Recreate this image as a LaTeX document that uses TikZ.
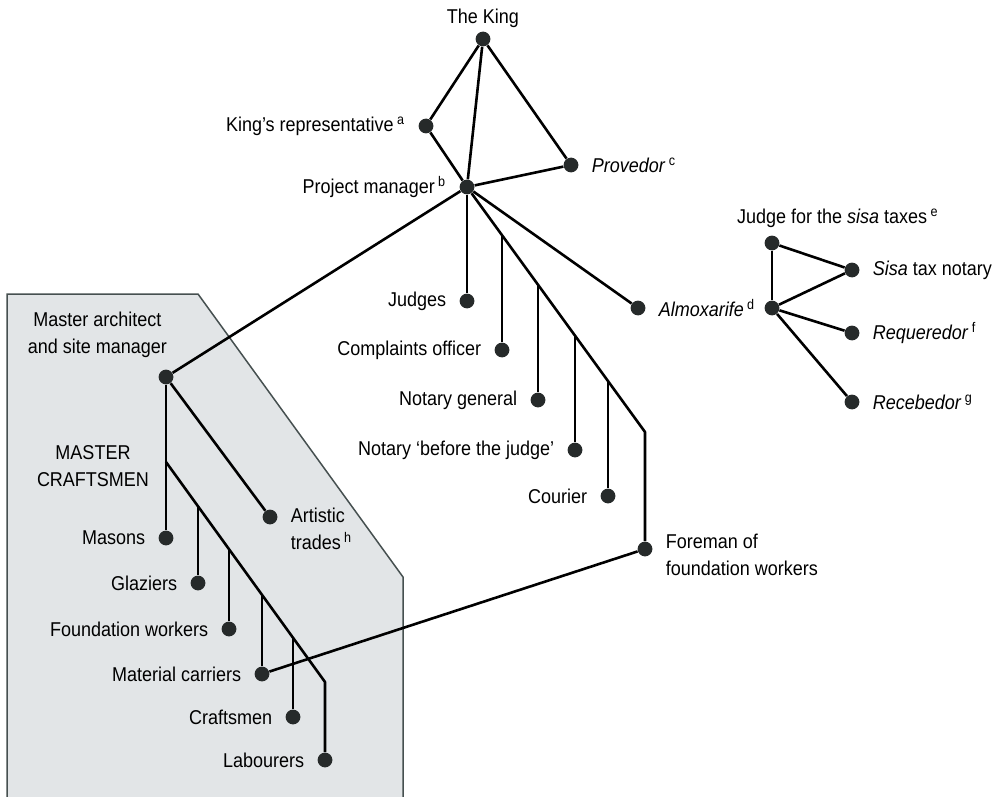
\documentclass[tikz,border=0pt]{standalone}
\usepackage{fontspec}
\setmainfont[FakeStretch=0.9]{Liberation Sans}
\usetikzlibrary{positioning}
\definecolor{boxfill}{RGB}{226,229,231}
\definecolor{boxline}{RGB}{70,80,80}
\definecolor{dotcol}{RGB}{38,42,42}
\newcommand{\fnote}[1]{\,\textsuperscript{#1}}

\begin{document}
\begin{tikzpicture}[x=0.5pt,y=-0.5pt,font=\fontsize{10}{13.5}\selectfont,
		post/.style={circle,fill=dotcol,inner sep=0pt,minimum size=7.4pt},
		link/.style={line width=1.3pt,line join=round},
		label distance=3pt]
		\useasboundingbox (0,0) rectangle (1001,797);
		% shaded part for the building site
		\fill[boxfill] (7,294) -- (198,294) -- (403,577) -- (403,797) -- (7,797) -- cycle;
		\draw[boxline,line width=0.75pt] (7,797) -- (7,294) -- (198,294) -- (403,577) -- (403,797);
		% crown and project manager
		\node[post, label={[yshift=-5pt]above:The King}] (king) at (483,39) {};
		\node[post, label=left:King's representative\fnote{a}] (rep) at (426,126) {};
		\node[post, label=right:\textit{Provedor}\fnote{c}] (prov) at (571,165) {};
		\node[post, label=left:Project manager\fnote{b}] (pm) at (467,187) {};
		\node[post, label=left:Judges] (judges) at (467,301) {};
		\node[post, label=left:Complaints officer] (compl) at (502,350) {};
		\node[post, label=left:Notary general] (notgen) at (538,400) {};
		\node[post, label=left:{Notary `before the judge'}] (notjud) at (575,450) {};
		\node[post, label=left:Courier] (courier) at (608,496) {};
		\node[post, label=right:\textit{Almoxarife}\fnote{d}] (almox) at (638,308) {};
		\node[post, label={[align=left,anchor=west,yshift=-3pt]right:Foreman of\\foundation workers}] (foreman) at (645,549) {};
		% sisa taxes
		\node[post, label={[anchor=south west,xshift=-21pt,yshift=-3pt]north:Judge for the \textit{sisa} taxes\fnote{e}}] (sisajudge) at (772,243) {};
		\node[post] (sisahub) at (772,308) {};
		\node[post, label=right:\textit{Sisa} tax notary] (sisanot) at (852,270) {};
		\node[post, label=right:\textit{Requeredor}\fnote{f}] (req) at (852,333) {};
		\node[post, label=right:\textit{Recebedor}\fnote{g}] (rec) at (852,402) {};
		% site
		\node[post, label={[align=center,anchor=south east,xshift=4pt,yshift=-1pt]north:Master architect\\and site manager}] (master) at (166,377) {};
		\node[align=center] (mcraft) at (93,466) {MASTER\\CRAFTSMEN};
		\node[post, label=left:Masons] (masons) at (166,538) {};
		\node[post, label={[align=left,anchor=west,yshift=-6pt]right:Artistic\\trades\fnote{h}}] (artistic) at (270,517) {};
		\node[post, label=left:Glaziers] (glaz) at (198,583) {};
		\node[post, label=left:Foundation workers] (found) at (229,629) {};
		\node[post, label=left:Material carriers] (matcar) at (262,674) {};
		\node[post, label=left:Craftsmen] (crafts) at (293,717) {};
		\node[post, label=left:Labourers] (labour) at (325,760) {};
		% forks
		\coordinate (fk) at (645,432);
		\coordinate (b1) at (502,235.2);
		\coordinate (b2) at (538,284.7);
		\coordinate (b3) at (575,335.7);
		\coordinate (b4) at (608,381.1);
		\coordinate (mcfork) at (166,462);
		\coordinate (lk) at (325,682);
		\coordinate (g1) at (198,506.3);
		\coordinate (g2) at (229,549.2);
		\coordinate (g3) at (262,594.8);
		\coordinate (g4) at (293,637.7);
		\draw[link]
		(king) edge (rep) edge (pm) edge (prov)
		(rep) edge (pm)
		(pm) edge (prov) edge (master) edge (judges) edge (almox)
		(sisajudge) edge (sisanot) edge (sisahub)
		(sisahub) edge (sisanot) edge (req) edge (rec)
		(master) edge (masons) edge (artistic)
		(foreman) edge (matcar);
		\draw[link] (pm) -- (fk) -- (foreman);
		\draw[link] (b1) -- (compl) (b2) -- (notgen) (b3) -- (notjud) (b4) -- (courier);
		\draw[link] (mcfork) -- (lk) -- (labour);
		\draw[link] (g1) -- (glaz) (g2) -- (found) (g3) -- (matcar) (g4) -- (crafts);
	\end{tikzpicture}
\end{document}
